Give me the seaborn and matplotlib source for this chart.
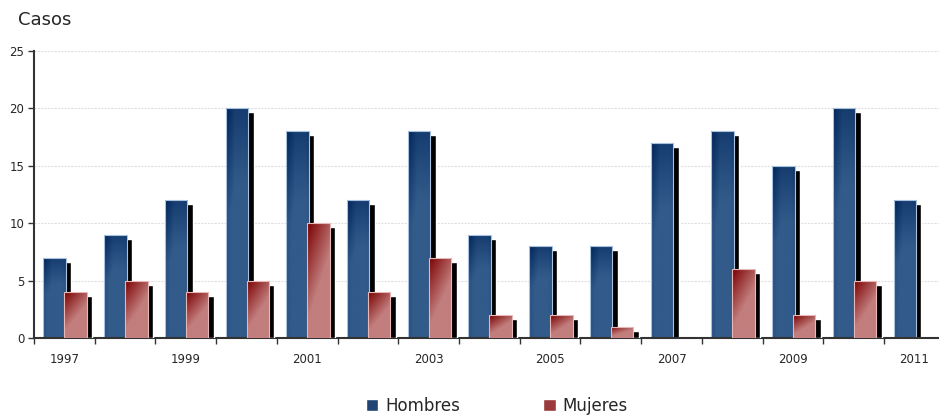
import matplotlib
matplotlib.use("Agg")
import matplotlib.pyplot as plt
import seaborn as sns
import numpy as np
import pandas as pd
from matplotlib.colors import to_rgb
from matplotlib.patches import Patch

# Data
years = [1997, 1998, 1999, 2000, 2001, 2002, 2003, 2004, 2005, 2006, 2007, 2008, 2009, 2010, 2011]
hombres = [7, 9, 12, 20, 18, 12, 18, 9, 8, 8, 17, 18, 15, 20, 12]
mujeres = [4, 5, 4, 5, 10, 4, 7, 2, 2, 1, 0, 6, 2, 5, 0]

df = pd.DataFrame({
    "anio": years * 2,
    "casos": hombres + mujeres,
    "sexo": ["Hombres"] * len(years) + ["Mujeres"] * len(years),
})

sns.set_style("white")
plt.rcParams['font.family'] = ['DejaVu Sans']

fig = plt.figure(figsize=(9.39, 4.17), dpi=100)
ax = fig.add_axes([0.0362, 0.1894, 0.97, 0.6883])

sns.barplot(data=df, x="anio", y="casos", hue="sexo",
            palette={"Hombres": "#2c5283", "Mujeres": "#b86e6e"},
            width=0.74, errorbar=None, saturation=1, legend=False, ax=ax)


def gradient(kind, n=80):
    u = np.linspace(0, 1, n)[None, :]   # left -> right
    v = np.linspace(0, 1, n)[:, None]   # top -> bottom
    if kind == "h":
        dark, light = np.array(to_rgb("#00245a")), np.array(to_rgb("#325b8a"))
        t = np.clip(0.45 * np.minimum(1, u * 2.5) + 0.75 * np.minimum(1, v * 2.2), 0, 1)
        t = t - 0.12 * np.clip((u - 0.85) / 0.15, 0, 1)
    else:
        dark, light = np.array(to_rgb("#7a0000")), np.array(to_rgb("#c27d7d"))
        t = np.clip(0.7 * u + 1.15 * v, 0, 1)
    return dark + np.clip(t, 0, 1)[..., None] * (light - dark)


# shadows + gradient fills, hombres first then mujeres on top
for i, (cont, kind, edge) in enumerate(zip(ax.containers, ["h", "m"], ["#a9c2df", "#e8b8b8"])):
    base = 2 + i
    img = gradient(kind)
    shift = 0.025 if kind == "h" else 0.0
    for p in cont.patches:
        h = p.get_height()
        if h <= 0:
            p.set_visible(False)
            continue
        p.set_x(p.get_x() + shift)
        x0, w = p.get_x(), p.get_width()
        ax.bar(x0 + 0.09, max(h - 0.35, 0), width=w, align="edge", color="black", zorder=base)
        p.set_zorder(base + 0.2)
        p.set_edgecolor(edge)
        p.set_linewidth(0.8)
        im = ax.imshow(img, extent=[x0, x0 + w, 0, h], aspect="auto", origin="upper",
                       zorder=base + 0.1, interpolation="bilinear")
        im.set_clip_path(p)
        p.set_facecolor("none")

ax.set_xlim(-0.5, 14.3)
ax.set_ylim(0, 25)
ax.set_yticks(range(0, 26, 5))
ax.set_xticks(range(len(years)))
ax.set_xticklabels([str(y) if i % 2 == 0 else "" for i, y in enumerate(years)], fontsize=8.5)
ax.set_xticks(np.arange(-0.5, len(years), 1), minor=True)
ax.tick_params(axis="x", which="major", length=0, pad=11)
ax.tick_params(axis="x", which="minor", bottom=True, length=4, width=1, color="#333333", direction="out")
ax.tick_params(axis="y", length=4, width=1, color="#333333", labelsize=8.5, pad=3, left=True)
ax.set_xlabel("")
ax.set_ylabel("")

ax.yaxis.grid(True, color="#e0e0e0", linestyle=(0, (2, 1)), linewidth=0.8)
ax.set_axisbelow(True)
for s in ["top", "right"]:
    ax.spines[s].set_visible(False)
for s in ["left", "bottom"]:
    ax.spines[s].set_color("#333333")
    ax.spines[s].set_linewidth(1.5)

fig.text(18 / 939, 1 - 20 / 417, "Casos", va="center", ha="left", fontsize=13)

handles = [Patch(facecolor="#1f4474", label="Hombres"), Patch(facecolor="#9a3a3a", label="Mujeres")]
fig.legend(handles=handles, loc="center", bbox_to_anchor=(0.529, 0.026), ncol=2, frameon=False,
           fontsize=12, columnspacing=5, handlelength=0.75, handleheight=0.75, handletextpad=0.4)

fig.savefig("out.png", dpi=100)
